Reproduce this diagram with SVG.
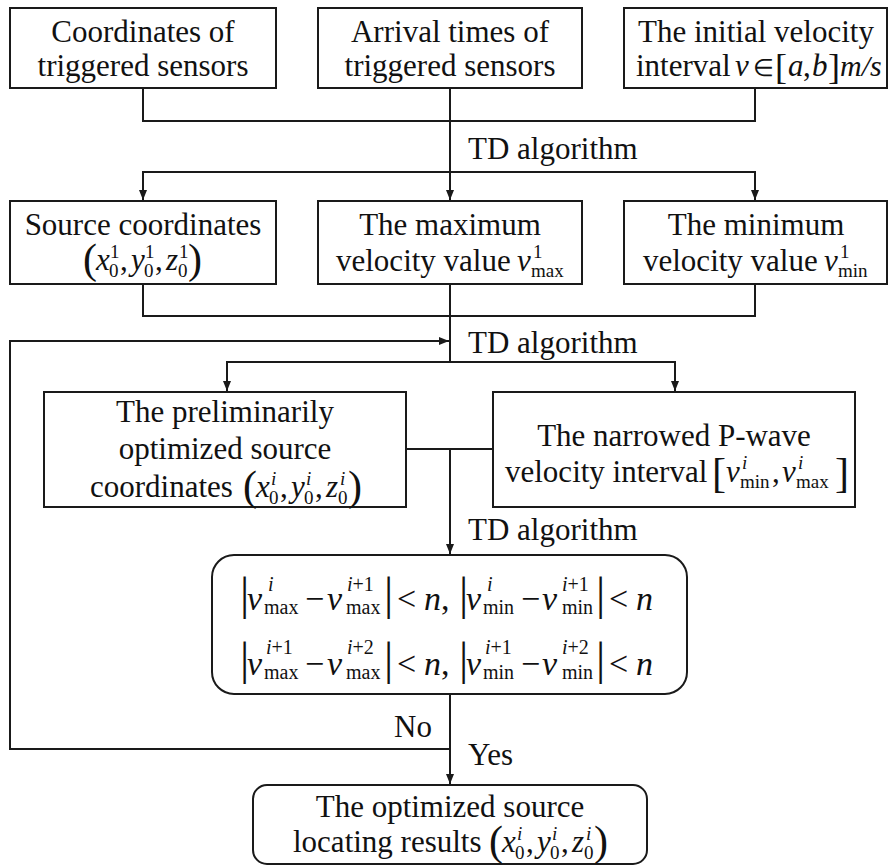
<svg xmlns="http://www.w3.org/2000/svg" width="889" height="866" viewBox="0 0 889 866">
<defs>
<style>
.box{fill:#fff;stroke:#1a1a1a;stroke-width:2}
.ln{fill:none;stroke:#1a1a1a;stroke-width:2}
text{font-family:'Liberation Serif';font-size:31px;fill:#111}
.c{text-anchor:middle}
.i{font-style:italic}
.s{font-size:19px}
.p{font-size:42px}
.b{font-size:36px}
.f{font-size:34px}
.fs{font-size:20px}
.bar{font-size:46px}
</style>
<marker id="arr" markerWidth="10" markerHeight="10" refX="10" refY="5" orient="auto" markerUnits="userSpaceOnUse">
<path d="M0,1 L10,5 L0,9 z" fill="#1a1a1a"/>
</marker>
</defs>
<rect width="889" height="866" fill="#fff"/>

<g id="connectors">
<path class="ln" d="M143,88 V121 H755 V88"/>
<path class="ln" d="M450,88 V200" marker-end="url(#arr)"/>
<path class="ln" d="M143,200 V172 H755 V200" marker-end="url(#arr)"/>
<path class="ln" d="M143,172 V200" marker-end="url(#arr)"/>
<path class="ln" d="M143,284 V316 H755 V284"/>
<path class="ln" d="M450,284 V362"/>
<path class="ln" d="M227,391 V362 H675 V391" marker-end="url(#arr)"/>
<path class="ln" d="M227,362 V391" marker-end="url(#arr)"/>
<path class="ln" d="M406,449 H493"/>
<path class="ln" d="M450,449 V554" marker-end="url(#arr)"/>
<path class="ln" d="M450,694 V784" marker-end="url(#arr)"/>
<path class="ln" d="M450,749 H10 V341 H449" marker-end="url(#arr)"/>
</g>

<g id="labels" style="font-family:'Liberation Serif'">
<text x="468" y="159">TD algorithm</text>
<text x="468" y="353">TD algorithm</text>
<text x="468" y="540">TD algorithm</text>
<text x="394" y="737">No</text>
<text x="468" y="765">Yes</text>
</g>

<g id="node-coords" style="font-family:'Liberation Serif'">
<rect class="box" x="10" y="8" width="266" height="80"/>
<text class="c" x="143" y="42">Coordinates of</text>
<text class="c" x="143" y="76">triggered sensors</text>
</g>

<g id="node-arrival" style="font-family:'Liberation Serif'">
<rect class="box" x="318" y="8" width="264" height="80"/>
<text class="c" x="450" y="42">Arrival times of</text>
<text class="c" x="450" y="76">triggered sensors</text>
</g>

<g id="node-initial-velocity" style="font-family:'Liberation Serif'">
<rect class="box" x="624" y="8" width="263" height="80"/>
<text class="c" x="756" y="42">The initial velocity</text>
<text x="636" y="76">interval</text>
<text class="i" x="735" y="76">v</text>
<text x="753" y="76" style="font-size:24px">∈</text>
<text class="b" x="775" y="79">[</text>
<text class="i" x="788" y="76">a</text>
<text x="803" y="76">,</text>
<text class="i" x="812" y="76">b</text>
<text class="b" x="828" y="79">]</text>
<text class="i" x="840" y="76" style="font-size:30px">m/s</text>
</g>

<g id="node-source-coords" style="font-family:'Liberation Serif'">
<rect class="box" x="10" y="201" width="266" height="83"/>
<text class="c" x="143" y="235">Source coordinates</text>
<text class="p" x="83" y="273">(</text>
<text class="i" x="96" y="270">x</text>
<text class="s" x="110" y="258">1</text>
<text class="s" x="109" y="277">0</text>
<text x="120" y="270">,</text>
<text class="i" x="131" y="270">y</text>
<text class="s" x="145" y="258">1</text>
<text class="s" x="144" y="277">0</text>
<text x="155" y="270">,</text>
<text class="i" x="166" y="270">z</text>
<text class="s" x="179" y="258">1</text>
<text class="s" x="178" y="277">0</text>
<text class="p" x="188" y="273">)</text>
</g>

<g id="node-max-velocity" style="font-family:'Liberation Serif'">
<rect class="box" x="318" y="201" width="264" height="83"/>
<text class="c" x="450" y="235">The maximum</text>
<text x="336" y="271">velocity value</text>
<text class="i" x="517" y="271">v</text>
<text class="s" x="533" y="258">1</text>
<text class="s" x="531" y="277">max</text>
</g>

<g id="node-min-velocity" style="font-family:'Liberation Serif'">
<rect class="box" x="624" y="201" width="263" height="83"/>
<text class="c" x="756" y="235">The minimum</text>
<text x="643" y="271">velocity value</text>
<text class="i" x="824" y="271">v</text>
<text class="s" x="840" y="258">1</text>
<text class="s" x="838" y="277">min</text>
</g>

<g id="node-preliminary" style="font-family:'Liberation Serif'">
<rect class="box" x="44" y="392" width="362" height="115"/>
<text class="c" x="225" y="422">The preliminarily</text>
<text class="c" x="225" y="459">optimized source</text>
<text x="90" y="497">coordinates</text>
<text class="p" x="243" y="500">(</text>
<text class="i" x="256" y="497">x</text>
<text class="s i" x="271" y="485">i</text>
<text class="s" x="269" y="504">0</text>
<text x="280" y="497">,</text>
<text class="i" x="291" y="497">y</text>
<text class="s i" x="306" y="485">i</text>
<text class="s" x="304" y="504">0</text>
<text x="315" y="497">,</text>
<text class="i" x="326" y="497">z</text>
<text class="s i" x="340" y="485">i</text>
<text class="s" x="338" y="504">0</text>
<text class="p" x="348" y="500">)</text>
</g>

<g id="node-narrowed" style="font-family:'Liberation Serif'">
<rect class="box" x="493" y="392" width="362" height="115"/>
<text class="c" x="674" y="446">The narrowed P-wave</text>
<text x="505" y="482">velocity interval</text>
<text class="p" x="712" y="487">[</text>
<text class="i" x="726" y="482">v</text>
<text class="s i" x="742" y="469">i</text>
<text class="s" x="740" y="488">min</text>
<text x="772" y="482">,</text>
<text class="i" x="782" y="482">v</text>
<text class="s i" x="798" y="469">i</text>
<text class="s" x="796" y="488">max</text>
<text class="p" x="835" y="487">]</text>
</g>

<g id="node-condition" style="font-family:'Liberation Serif'">
<rect class="box" x="212" y="555" width="475" height="139" rx="22" ry="22"/>
<text class="bar" x="240" y="609">|</text>
<text class="f i" x="247" y="610">v</text>
<text class="fs i" x="268" y="591">i</text>
<text class="fs" x="264" y="614">max</text>
<text class="f" x="305" y="610">−</text>
<text class="f i" x="327" y="610">v</text>
<text class="fs" x="347" y="591"><tspan class="i">i</tspan>+1</text>
<text class="fs" x="346" y="614">max</text>
<text class="bar" x="384" y="609">|</text>
<text class="f" x="397" y="610">&lt;</text>
<text class="f i" x="424" y="610">n</text>
<text class="f" x="441" y="610">,</text>
<text class="bar" x="459" y="609">|</text>
<text class="f i" x="466" y="610">v</text>
<text class="fs i" x="487" y="591">i</text>
<text class="fs" x="483" y="614">min</text>
<text class="f" x="521" y="610">−</text>
<text class="f i" x="542" y="610">v</text>
<text class="fs" x="562" y="591"><tspan class="i">i</tspan>+1</text>
<text class="fs" x="562" y="614">min</text>
<text class="bar" x="596" y="609">|</text>
<text class="f" x="609" y="610">&lt;</text>
<text class="f i" x="636" y="610">n</text>

<text class="bar" x="240" y="674">|</text>
<text class="f i" x="247" y="675">v</text>
<text class="fs" x="266" y="654"><tspan class="i">i</tspan>+1</text>
<text class="fs" x="264" y="679">max</text>
<text class="f" x="305" y="675">−</text>
<text class="f i" x="327" y="675">v</text>
<text class="fs" x="347" y="654"><tspan class="i">i</tspan>+2</text>
<text class="fs" x="346" y="679">max</text>
<text class="bar" x="384" y="674">|</text>
<text class="f" x="397" y="675">&lt;</text>
<text class="f i" x="424" y="675">n</text>
<text class="f" x="441" y="675">,</text>
<text class="bar" x="459" y="674">|</text>
<text class="f i" x="466" y="675">v</text>
<text class="fs" x="485" y="654"><tspan class="i">i</tspan>+1</text>
<text class="fs" x="483" y="679">min</text>
<text class="f" x="521" y="675">−</text>
<text class="f i" x="542" y="675">v</text>
<text class="fs" x="562" y="654"><tspan class="i">i</tspan>+2</text>
<text class="fs" x="562" y="679">min</text>
<text class="bar" x="596" y="674">|</text>
<text class="f" x="609" y="675">&lt;</text>
<text class="f i" x="636" y="675">n</text>
</g>

<g id="node-result" style="font-family:'Liberation Serif'">
<rect class="box" x="253" y="785" width="394" height="79" rx="14" ry="14"/>
<text class="c" x="450" y="817">The optimized source</text>
<text x="293" y="852">locating results</text>
<text class="p" x="489" y="855">(</text>
<text class="i" x="502" y="852">x</text>
<text class="s i" x="517" y="840">i</text>
<text class="s" x="515" y="859">0</text>
<text x="526" y="852">,</text>
<text class="i" x="537" y="852">y</text>
<text class="s i" x="552" y="840">i</text>
<text class="s" x="550" y="859">0</text>
<text x="561" y="852">,</text>
<text class="i" x="572" y="852">z</text>
<text class="s i" x="586" y="840">i</text>
<text class="s" x="584" y="859">0</text>
<text class="p" x="594" y="855">)</text>
</g>
</svg>
